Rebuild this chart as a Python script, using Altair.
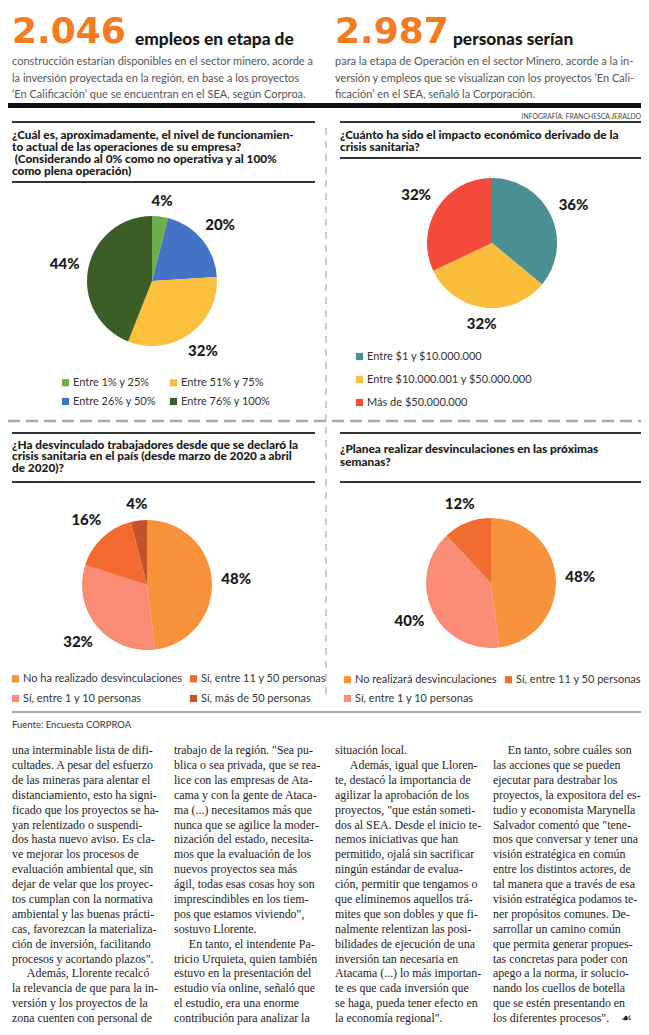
import altair as alt
import pandas as pd

W, H = 633, 1019

# ---------------- data ----------------
big_left = "2.046"
sub_left = "empleos en etapa de"
lines_left = [
    "construcción estarían disponibles en el sector minero, acorde a",
    "la inversión proyectada en la región, en base a los proyectos",
    "‘En Calificación’  que se encuentran en el SEA, según Corproa.",
]
big_right = "2.987"
sub_right = "personas serían"
lines_right = [
    "para la etapa de Operación en el sector Minero, acorde a la in-",
    "versión y empleos que se visualizan con los proyectos ‘En Cali-",
    "ficación’ en el SEA, señaló la Corporación.",
]
credit = "INFOGRAFÍA: FRANCHESCA JERALDO"
source = "Fuente: Encuesta CORPROA"

IND = "\u200b" + "\u00a0" * 5

q1_title = [
    "¿Cuál es, aproximadamente, el nivel de funcionamien-",
    "to actual de las operaciones de su empresa?",
    "\u200b\u00a0(Considerando al 0% como no operativa y al 100%",
    "como plena operación)",
]
q1_cats = ["Entre 1% y 25%", "Entre 26% y 50%", "Entre 51% y 75%", "Entre 76% y 100%"]
q1_vals = [4, 20, 32, 44]
q1_cols = ["#6FAD4A", "#4472C4", "#FBBF3C", "#3B5E27"]

q2_title = [
    "¿Cuánto ha sido el impacto económico derivado de la",
    "crisis sanitaria?",
]
q2_cats = ["Entre $1 y $10.000.000", "Entre $10.000.001 y $50.000.000", "Más de $50.000.000"]
q2_vals = [36, 32, 32]
q2_cols = ["#4A9093", "#FBBD3C", "#F34A3C"]

q3_title = [
    "¿Ha desvinculado trabajadores desde que se declaró la",
    "crisis sanitaria en el país (desde marzo de 2020 a abril",
    "de 2020)?",
]
q3_cats = ["No ha realizado desvinculaciones", "Sí, entre 1 y 10 personas",
           "Sí, entre 11 y 50 personas", "Sí, más de 50 personas"]
q3_vals = [48, 32, 16, 4]
q3_cols = ["#F7923B", "#FA8C76", "#F26A2F", "#C65229"]

q4_title = [
    "¿Planea realizar desvinculaciones en las próximas",
    "semanas?",
]
q4_cats = ["No realizará desvinculaciones", "Sí, entre 1 y 10 personas", "Sí, entre 11 y 50 personas"]
q4_vals = [48, 40, 12]
q4_cols = ["#F7933C", "#FA8C78", "#F26B30"]

col1 = [
    "una interminable lista de difi-",
    "cultades. A pesar del esfuerzo",
    "de las mineras para alentar el",
    "distanciamiento, esto ha signi-",
    "ficado que los proyectos se ha-",
    "yan relentizado o suspendi-",
    "dos hasta nuevo aviso. Es cla-",
    "ve mejorar los procesos de",
    "evaluación ambiental que, sin",
    "dejar de velar que los proyec-",
    "tos cumplan con la normativa",
    "ambiental y las buenas prácti-",
    "cas, favorezcan la materializa-",
    "ción de inversión, facilitando",
    "procesos y acortando plazos\".",
    IND + "Además, Llorente recalcó",
    "la relevancia de que para la in-",
    "versión y los proyectos de la",
    "zona cuenten con personal de",
]
col2 = [
    "trabajo de la región. \"Sea pu-",
    "blica o sea privada, que se rea-",
    "lice con las empresas de Ata-",
    "cama y con la gente de Ataca-",
    "ma (...) necesitamos más que",
    "nunca que se agilice la moder-",
    "nización del estado, necesita-",
    "mos que la evaluación de los",
    "nuevos proyectos sea más",
    "ágil, todas esas cosas hoy son",
    "imprescindibles en los tiem-",
    "pos que estamos viviendo\",",
    "sostuvo Llorente.",
    IND + "En tanto, el intendente Pa-",
    "tricio Urquieta, quien también",
    "estuvo en la presentación del",
    "estudio vía online, señaló que",
    "el estudio, era una enorme",
    "contribución para analizar la",
]
col3 = [
    "situación local.",
    IND + "Además, igual que Lloren-",
    "te, destacó la importancia de",
    "agilizar la aprobación de los",
    "proyectos, \"que están someti-",
    "dos al SEA. Desde el inicio te-",
    "nemos iniciativas que han",
    "permitido, ojalá sin sacrificar",
    "ningún estándar de evalua-",
    "ción, permitir que tengamos o",
    "que eliminemos aquellos trá-",
    "mites que son dobles y que fi-",
    "nalmente relentizan las posi-",
    "bilidades de ejecución de una",
    "inversión tan necesaria en",
    "Atacama (...) lo más importan-",
    "te es que cada inversión que",
    "se haga, pueda tener efecto en",
    "la economía regional\".",
]
col4 = [
    IND + "En tanto, sobre cuáles son",
    "las acciones que se pueden",
    "ejecutar para destrabar los",
    "proyectos, la expositora del es-",
    "tudio y economista Marynella",
    "Salvador comentó que \"tene-",
    "mos que conversar y tener una",
    "visión estratégica en común",
    "entre los distintos actores, de",
    "tal manera que a través de esa",
    "visión estratégica podamos te-",
    "ner propósitos comunes. De-",
    "sarrollar un camino común",
    "que permita generar propues-",
    "tas concretas para poder con",
    "apego a la norma, ir solucio-",
    "nando los cuellos de botella",
    "que se estén presentando en",
    "los diferentes procesos\".\u00a0\u00a0\u00a0\u00a0☙",
]

# ---------------- helpers ----------------
one = pd.DataFrame({"k": [0]})


def block(lines, x, y, font, size, color, lh, weight="normal", align="left"):
    df = pd.DataFrame({"t": ["\n".join(lines)]})
    return alt.Chart(df).mark_text(
        font=font, fontSize=size, fontWeight=weight, color=color, align=align,
        baseline="alphabetic", lineBreak="\n", lineHeight=lh,
    ).encode(text="t:N", x=alt.value(x), y=alt.value(y))


def hrule(y, x1, x2, color, w, dash=None):
    kw = {"strokeDash": dash} if dash else {}
    return alt.Chart(one).mark_rule(color=color, strokeWidth=w, **kw).encode(
        x=alt.value(x1), x2=alt.value(x2), y=alt.value(y))


def vrule(x, y1, y2, color, w, dash=None):
    kw = {"strokeDash": dash} if dash else {}
    return alt.Chart(one).mark_rule(color=color, strokeWidth=w, **kw).encode(
        x=alt.value(x), y=alt.value(y1), y2=alt.value(y2))


R = 65


def pie(cats, vals, cols, cx, cy, lx, ly, ncol, rowpad, colpad, gap):
    df = pd.DataFrame({"cat": cats, "v": vals, "o": list(range(len(cats))),
                       "lab": [f"{v}%" for v in vals]})
    arc = alt.Chart(df).mark_arc(outerRadius=R).encode(
        theta=alt.Theta("v:Q", stack=True, scale=alt.Scale(domain=[0, 100])),
        order=alt.Order("o:Q"),
        x=alt.value(cx), y=alt.value(cy),
        color=alt.Color("cat:N", scale=alt.Scale(domain=cats, range=cols),
                        legend=alt.Legend(orient="none", legendX=lx, legendY=ly, title=None,
                                          columns=ncol, symbolType="square", symbolSize=52,
                                          symbolStrokeWidth=0, labelFont="Lato", labelFontSize=11,
                                          labelColor="#333333", labelLimit=400, rowPadding=rowpad,
                                          columnPadding=colpad, padding=0, labelOffset=2)),
    )
    # label at the middle angle of its slice, just clear of the circle
    txt = alt.Chart(df).transform_window(
        cum="sum(v)", sort=[alt.SortField("o")]
    ).transform_calculate(
        mid="(datum.cum - datum.v / 2) / 100 * 2 * PI",
        rr=f"{R + gap} + 15 * abs(sin(datum.mid)) + 6 * abs(cos(datum.mid))",
    ).mark_text(font="Lato", fontSize=15, fontWeight=900, color="#1a1a1a").encode(
        x=alt.value(cx), y=alt.value(cy),
        theta=alt.Theta("mid:Q", scale=None, stack=False),
        radius=alt.Radius("rr:Q", scale=None, stack=False),
        text="lab:N",
    )
    return [arc, txt]


SANS = "Lato"
layers = []

# header
layers.append(block([big_left], 4, 35, "DejaVu Sans", 36, "#F47B20", 36, weight="bold"))
layers.append(block([sub_left], 127, 37, "Lato", 17.3, "#1a1a1a", 17, weight=900))
layers.append(block(lines_left, 4, 57, SANS, 11, "#555555", 16.5))
layers.append(block([big_right], 327, 35, "DejaVu Sans", 36, "#F47B20", 36, weight="bold"))
layers.append(block([sub_right], 445, 37, "Lato", 17.3, "#1a1a1a", 17, weight=900))
layers.append(block(lines_right, 327, 57, SANS, 11, "#555555", 16.5))
layers.append(hrule(97.5, 0, W, "#111111", 5))
layers.append(block([credit], W, 110.5, "Lato", 6.8, "#444444", 8, align="right"))

# panel rules and dividers
layers.append(hrule(114, 4, 307, "#333333", 2))
layers.append(hrule(174, 4, 307, "#333333", 2))
layers.append(hrule(114, 332, W, "#333333", 2))
layers.append(hrule(150, 332, W, "#333333", 2))
layers.append(hrule(425, 4, 307, "#333333", 2))
layers.append(hrule(474, 4, 307, "#333333", 2))
layers.append(hrule(425, 332, W, "#333333", 2))
layers.append(hrule(474, 332, W, "#333333", 2))
layers.append(hrule(413, 0, W, "#AAAAAA", 2.5, [12, 6]))
layers.append(vrule(318, 120, 692, "#BBBBBB", 1.5, [7, 6]))
layers.append(hrule(704, 4, W, "#888888", 1.5))

# titles
TF = "Lato"
TS = 11.8
layers.append(block(q1_title, 4, 131, TF, TS, "#1a1a1a", 11.9, weight=900))
layers.append(block(q2_title, 332, 130.5, TF, TS, "#1a1a1a", 12.2, weight=900))
layers.append(block(q3_title, 4, 440.5, TF, TS, "#1a1a1a", 11.9, weight=900))
layers.append(block(q4_title, 332, 444.5, TF, TS, "#1a1a1a", 13, weight=900))

# pies
layers += pie(q1_cats, q1_vals, q1_cols, 144, 273, 52, 369, 2, 7, 11, 8)
layers += pie(q2_cats, q2_vals, q2_cols, 484, 235, 346, 343, 1, 11, 10, 9)
layers += pie(q3_cats, q3_vals, q3_cols, 139, 577, 2, 665, 2, 8, 5, 9)
layers += pie(q4_cats, q4_vals, q4_cols, 483, 575, 334, 666, 2, 7, 6, 9)

# source and body
layers.append(block([source], 4, 720, "Lato", 9.5, "#333333", 10))
SERIF = "Liberation Serif"
BS, BL, BY = 11.9, 14.9, 746
layers.append(block(col1, 4, BY, SERIF, BS, "#222222", BL))
layers.append(block(col2, 166, BY, SERIF, BS, "#222222", BL))
layers.append(block(col3, 327, BY, SERIF, BS, "#222222", BL))
layers.append(block(col4, 485, BY, SERIF, BS, "#222222", BL))

chart = alt.layer(*layers).resolve_scale(color="independent").properties(
    width=W, height=H, padding=0, background="white",
    autosize=alt.AutoSizeParams(type="none"),
).configure_view(stroke=None)

chart.save("out.html", embed_options={"renderer": "svg", "actions": False})
